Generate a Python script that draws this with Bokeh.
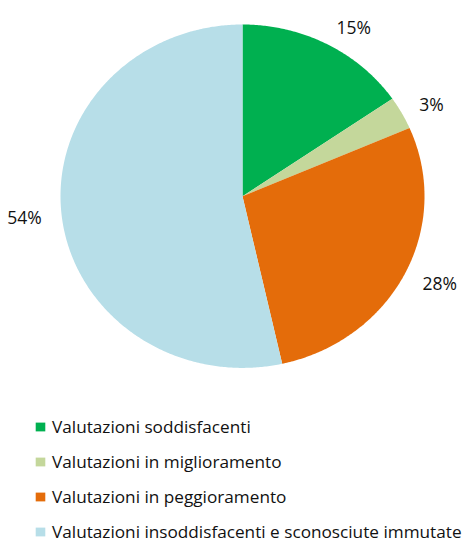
import numpy as np
from bokeh.plotting import figure
from bokeh.models import ColumnDataSource, Range1d, Legend, LegendItem
from bokeh.core.properties import value
from bokeh.embed import file_html
from bokeh.resources import INLINE

# ---- data ----
categories = [
    "Valutazioni soddisfacenti",
    "Valutazioni in miglioramento",
    "Valutazioni in peggioramento",
    "Valutazioni insoddisfacenti e sconosciute immutate",
]
values = [15.4, 3.1, 28.0, 53.5]
labels = ["15%", "3%", "28%", "54%"]
colors = ["#00B050", "#C4D79B", "#E46C0A", "#B7DEE8"]

# ---- geometry (pie in normalised units, clockwise from 12 o'clock) ----
W, H = 475, 543
cx_px, cy_px = 242.0, 195.7      # pie centre within figure
rx_px, ry_px = 182.0, 171.7      # pixels per unit (x / y)

vals = np.array(values, dtype=float)
frac = vals / vals.sum()
cum = np.cumsum(frac)
start = 2 * np.pi * (cum - frac)
end = 2 * np.pi * cum

xs, ys = [], []
for s, e in zip(start, end):
    n = max(int((e - s) / (2 * np.pi) * 720), 8)
    t = np.linspace(s, e, n)
    xs.append([0.0] + list(np.sin(t)) + [0.0])
    ys.append([0.0] + list(np.cos(t)) + [0.0])

pie_src = ColumnDataSource(dict(xs=xs, ys=ys, color=colors, name=categories))

mid = (start + end) / 2
lab_r = 1.11
lx = lab_r * np.sin(mid)
ly = lab_r * np.cos(mid)
align = ["left" if v >= 0 else "right" for v in np.sin(mid)]
lab_src = ColumnDataSource(dict(x=lx, y=ly, text=labels, align=align))

p = figure(
    width=W, height=H,
    x_range=Range1d(-cx_px / rx_px, (W - cx_px) / rx_px),
    y_range=Range1d(-(H - cy_px) / ry_px, cy_px / ry_px),
    x_axis_type=None, y_axis_type=None,
    toolbar_location=None, output_backend="svg",
    min_border=0, outline_line_color=None,
)
p.grid.visible = False

pie = p.patches("xs", "ys", source=pie_src, fill_color="color", line_color=None)

p.text("x", "y", text="text", source=lab_src, text_align="align",
       text_baseline="middle", text_font=value("Open Sans"),
       text_font_size="17.5px", text_color="#111111")

items = [LegendItem(label=c, renderers=[pie], index=i) for i, c in enumerate(categories)]
legend = Legend(
    items=items, location=(34, 0), orientation="vertical",
    glyph_width=12, glyph_height=11, label_height=20, spacing=12,
    label_standoff=6, padding=0, margin=0,
    border_line_color=None, background_fill_alpha=0,
    label_text_font="Open Sans", label_text_font_size="17.2px",
    label_text_color="#111111",
)
p.add_layout(legend)

open("out.html", "w").write(file_html(p, INLINE))
